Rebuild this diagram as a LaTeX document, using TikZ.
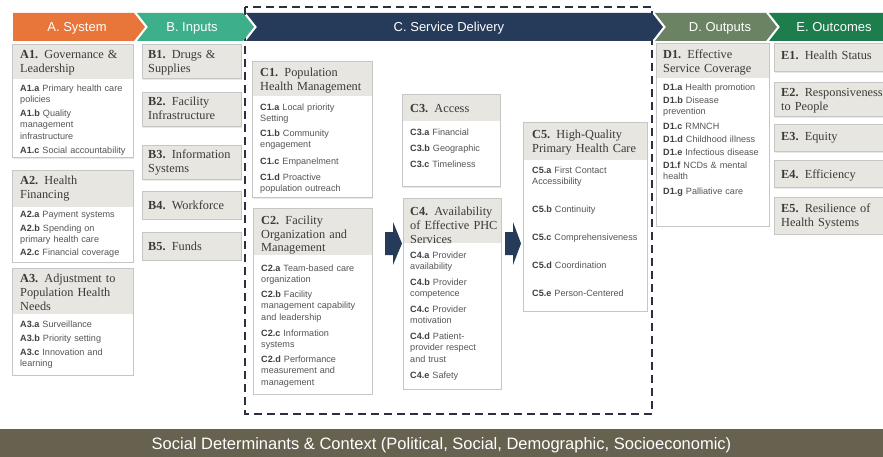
\documentclass[tikz,border=0pt]{standalone}
\usepackage{fontspec}
\setmainfont{Liberation Serif}
\setsansfont{Liberation Sans}
\usetikzlibrary{shadows}
\definecolor{cA}{HTML}{E8763A}
\definecolor{cB}{HTML}{3DAF8A}
\definecolor{cC}{HTML}{253B59}
\definecolor{cD}{HTML}{6B8363}
\definecolor{cE}{HTML}{1D7D4C}
\definecolor{cbar}{HTML}{67624F}
\definecolor{cdash}{HTML}{2B3040}
\definecolor{cband}{HTML}{E8E6E0}
\definecolor{cline}{HTML}{C6C6C6}
\definecolor{cttl}{HTML}{3A3A3A}
\definecolor{citm}{HTML}{555555}
\definecolor{clab}{HTML}{404040}
\newcommand\ttlfont{\rmfamily\fontsize{12.3}{14}\selectfont}
\newcommand\itmfont{\sffamily\fontsize{9.1}{11.5}\selectfont}
\newcommand\hdrfont{\sffamily\fontsize{13}{15}\selectfont}
\newcommand\tn[1]{\textbf{#1}}
\newcommand\il[1]{\textbf{\textcolor{clab}{#1}}}
\newcommand\bandbox[6]{%
  \node[boxframe, minimum width=#4pt, minimum height=#5pt] (#1) at (#2,#3) {};
  \node[boxband, minimum width=#4pt, minimum height=#6pt] (#1b) at (#2,#3) {};
  \draw[bordr] (#1.north west) rectangle (#1.south east);}
\newcommand\fullbox[5]{%
  \node[boxframe, fill=cband, minimum width=#4pt, minimum height=#5pt] (#1) at (#2,#3) {};}
\begin{document}
\begin{tikzpicture}[x=1pt,y=1pt,
  boxframe/.style={draw=cline, line width=1pt, fill=white, anchor=north west, inner sep=0pt, outer sep=0pt,
    drop shadow={shadow xshift=1.2pt, shadow yshift=-1.2pt, opacity=0.18}},
  boxband/.style={fill=cband, anchor=north west, inner sep=0pt, outer sep=0pt},
  bordr/.style={draw=cline, line width=1pt},
  ttl/.style={anchor=base west, inner sep=0pt, text width=140pt, align=left, font=\ttlfont, text=cttl},
  itm/.style={anchor=base west, inner sep=0pt, text width=140pt, align=left, font=\itmfont, text=citm},
  hdr/.style={anchor=base, inner sep=0pt, font=\hdrfont, text=white},
  blockarrow/.style={fill=cC},
  dashbox/.style={draw=cdash, line width=2pt, dash pattern=on 8pt off 5pt},
  sdbar/.style={fill=cbar, anchor=north west, inner sep=0pt, minimum width=890pt, minimum height=30pt},
  sdtext/.style={anchor=base, inner sep=0pt, text=white, font=\sffamily\fontsize{16.5}{18}\selectfont}
]
\useasboundingbox (0,0) rectangle (883,-457);
\clip (0,0) rectangle (883,-457);

% dashed service delivery frame
\draw[dashbox] (245,-7) rectangle (652,-414);

% header chevrons
\fill[cA] (13,-13) -- (134,-13) -- (145,-27) -- (134,-41) -- (13,-41) -- cycle;
\fill[cB] (137,-13) -- (243,-13) -- (254,-27) -- (243,-41) -- (137,-41) -- (148,-27) -- cycle;
\fill[cC] (246,-13) -- (652,-13) -- (663,-27) -- (652,-41) -- (246,-41) -- (257,-27) -- cycle;
\fill[cD] (655,-13) -- (766,-13) -- (777,-27) -- (766,-41) -- (655,-41) -- (666,-27) -- cycle;
\fill[cE] (769,-13) -- (890,-13) -- (890,-41) -- (769,-41) -- (780,-27) -- cycle;
\node[hdr] (hA) at (77,-31.7) {A. System};
\node[hdr] (hB) at (192,-31.7) {B. Inputs};
\node[hdr] (hC) at (449,-31.7) {C. Service Delivery};
\node[hdr] (hD) at (720,-31.7) {D. Outputs};
\node[hdr] (hE) at (834,-31.7) {E. Outcomes};

% ---------- A. System ----------
\bandbox{A1}{12}{-45}{121}{113}{34}
\node[ttl] (A1t) at (20,-59) {\tn{A1.} Governance \&\\Leadership};
\node[itm] (A1a) at (20,-91.3) {\il{A1.a} Primary health care\\policies};
\node[itm] (A1bb) at (20,-116.3) {\il{A1.b} Quality\\management\\infrastructure};
\node[itm] (A1c) at (20,-153.3) {\il{A1.c} Social accountability};

\bandbox{A2}{12}{-171}{121}{91}{36}
\node[ttl] (A2t) at (20,-185) {\tn{A2.} Health\\Financing};
\node[itm] (A2a) at (20,-217.3) {\il{A2.a} Payment systems};
\node[itm] (A2bb) at (20,-231.3) {\il{A2.b} Spending on\\primary health care};
\node[itm] (A2c) at (20,-255.3) {\il{A2.c} Financial coverage};

\bandbox{A3}{12}{-268}{121}{107}{46}
\node[ttl] (A3t) at (20,-282) {\tn{A3.} Adjustment to\\Population Health\\Needs};
\node[itm] (A3a) at (20,-327.3) {\il{A3.a} Surveillance};
\node[itm] (A3bb) at (20,-341.3) {\il{A3.b} Priority setting};
\node[itm] (A3c) at (20,-355.3) {\il{A3.c} Innovation and\\learning};

% ---------- B. Inputs ----------
\fullbox{B1}{142}{-45}{99}{34}
\node[ttl] (B1t) at (148,-59) {\tn{B1.} Drugs \&\\Supplies};
\fullbox{B2}{142}{-93}{99}{34}
\node[ttl] (B2t) at (148,-106) {\tn{B2.} Facility\\Infrastructure};
\fullbox{B3}{142}{-146}{99}{34}
\node[ttl] (B3t) at (148,-159) {\tn{B3.} Information\\Systems};
\fullbox{B4}{142}{-192}{99}{27}
\node[ttl] (B4t) at (148,-210) {\tn{B4.} Workforce};
\fullbox{B5}{142}{-232}{99}{28}
\node[ttl] (B5t) at (148,-250) {\tn{B5.} Funds};

% ---------- C. Service Delivery ----------
\bandbox{C1}{252}{-62}{120}{136}{34}
\node[ttl] (C1t) at (260,-77) {\tn{C1.} Population\\Health Management};
\node[itm] (C1a) at (260,-110.3) {\il{C1.a} Local priority\\Setting};
\node[itm] (C1bb) at (260,-136.3) {\il{C1.b} Community\\engagement};
\node[itm] (C1c) at (260,-164.3) {\il{C1.c} Empanelment};
\node[itm] (C1d) at (260,-180.3) {\il{C1.d} Proactive\\population outreach};

\bandbox{C2}{253}{-209}{119}{185}{46}
\node[ttl] (C2t) at (261,-224) {\tn{C2.} Facility\\Organization and\\Management};
\node[itm] (C2a) at (261,-271.3) {\il{C2.a} Team-based care\\organization};
\node[itm] (C2bb) at (261,-297.3) {\il{C2.b} Facility\\management capability\\and leadership};
\node[itm] (C2c) at (261,-336.3) {\il{C2.c} Information\\systems};
\node[itm] (C2d) at (261,-362.3) {\il{C2.d} Performance\\measurement and\\management};

\bandbox{C3}{402}{-95}{98}{92}{26}
\node[ttl] (C3t) at (410,-113) {\tn{C3.} Access};
\node[itm] (C3a) at (410,-135.3) {\il{C3.a} Financial};
\node[itm] (C3bb) at (410,-151.3) {\il{C3.b} Geographic};
\node[itm] (C3c) at (410,-167.3) {\il{C3.c} Timeliness};

\bandbox{C4}{403}{-199}{98}{190}{44}
\node[ttl] (C4t) at (410,-215) {\tn{C4.} Availability\\of Effective PHC\\Services};
\node[itm] (C4a) at (410,-258.3) {\il{C4.a} Provider\\availability};
\node[itm] (C4bb) at (410,-285.3) {\il{C4.b} Provider\\competence};
\node[itm] (C4c) at (410,-312.3) {\il{C4.c} Provider\\motivation};
\node[itm] (C4d) at (410,-339.3) {\il{C4.d} Patient-\\provider respect\\and trust};
\node[itm] (C4e) at (410,-378.3) {\il{C4.e} Safety};

\bandbox{C5}{523}{-123}{124}{188}{37}
\node[ttl] (C5t) at (532,-139) {\tn{C5.} High-Quality\\Primary Health Care};
\node[itm] (C5a) at (532,-173.3) {\il{C5.a} First Contact\\Accessibility};
\node[itm] (C5bb) at (532,-212.3) {\il{C5.b} Continuity};
\node[itm] (C5c) at (532,-240.3) {\il{C5.c} Comprehensiveness};
\node[itm] (C5d) at (532,-268.3) {\il{C5.d} Coordination};
\node[itm] (C5e) at (532,-296.3) {\il{C5.e} Person-Centered};

% block arrows C2 -> C4 -> C5
\fill[blockarrow] (385,-232) -- (393,-232) -- (393,-222) -- (402,-243.5) -- (393,-265) -- (393,-255) -- (385,-255) -- cycle;
\fill[blockarrow] (505,-232) -- (513,-232) -- (513,-222) -- (521,-243.5) -- (513,-265) -- (513,-255) -- (505,-255) -- cycle;

% ---------- D. Outputs ----------
\bandbox{D1}{656}{-44}{113}{182}{34}
\node[ttl] (D1t) at (663,-59) {\tn{D1.} Effective\\Service Coverage};
\node[itm] (D1a) at (663,-90.3) {\il{D1.a} Health promotion};
\node[itm] (D1bb) at (663,-103.3) {\il{D1.b} Disease\\prevention};
\node[itm] (D1c) at (663,-129.3) {\il{D1.c} RMNCH};
\node[itm] (D1d) at (663,-142.3) {\il{D1.d} Childhood illness};
\node[itm] (D1e) at (663,-155.3) {\il{D1.e} Infectious disease};
\node[itm] (D1f) at (663,-168.3) {\il{D1.f} NCDs \& mental\\health};
\node[itm] (D1g) at (663,-194.3) {\il{D1.g} Palliative care};

% ---------- E. Outcomes ----------
\fullbox{E1}{774}{-44}{130}{28}
\node[ttl] (E1t) at (781,-60) {\tn{E1.} Health Status};
\fullbox{E2}{774}{-83}{130}{34}
\node[ttl] (E2t) at (781,-97) {\tn{E2.} Responsiveness\\to People};
\fullbox{E3}{774}{-125}{130}{27}
\node[ttl] (E3t) at (781,-141) {\tn{E3.} Equity};
\fullbox{E4}{774}{-161}{130}{27}
\node[ttl] (E4t) at (781,-179) {\tn{E4.} Efficiency};
\fullbox{E5}{774}{-198}{130}{36}
\node[ttl] (E5t) at (781,-212) {\tn{E5.} Resilience of\\Health Systems};

% ---------- social determinants bar ----------
\node[sdbar] (SD) at (-3,-429) {};
\node[sdtext] (SDt) at (441.5,-449) {Social Determinants \& Context (Political, Social, Demographic, Socioeconomic)};
\end{tikzpicture}
\end{document}
